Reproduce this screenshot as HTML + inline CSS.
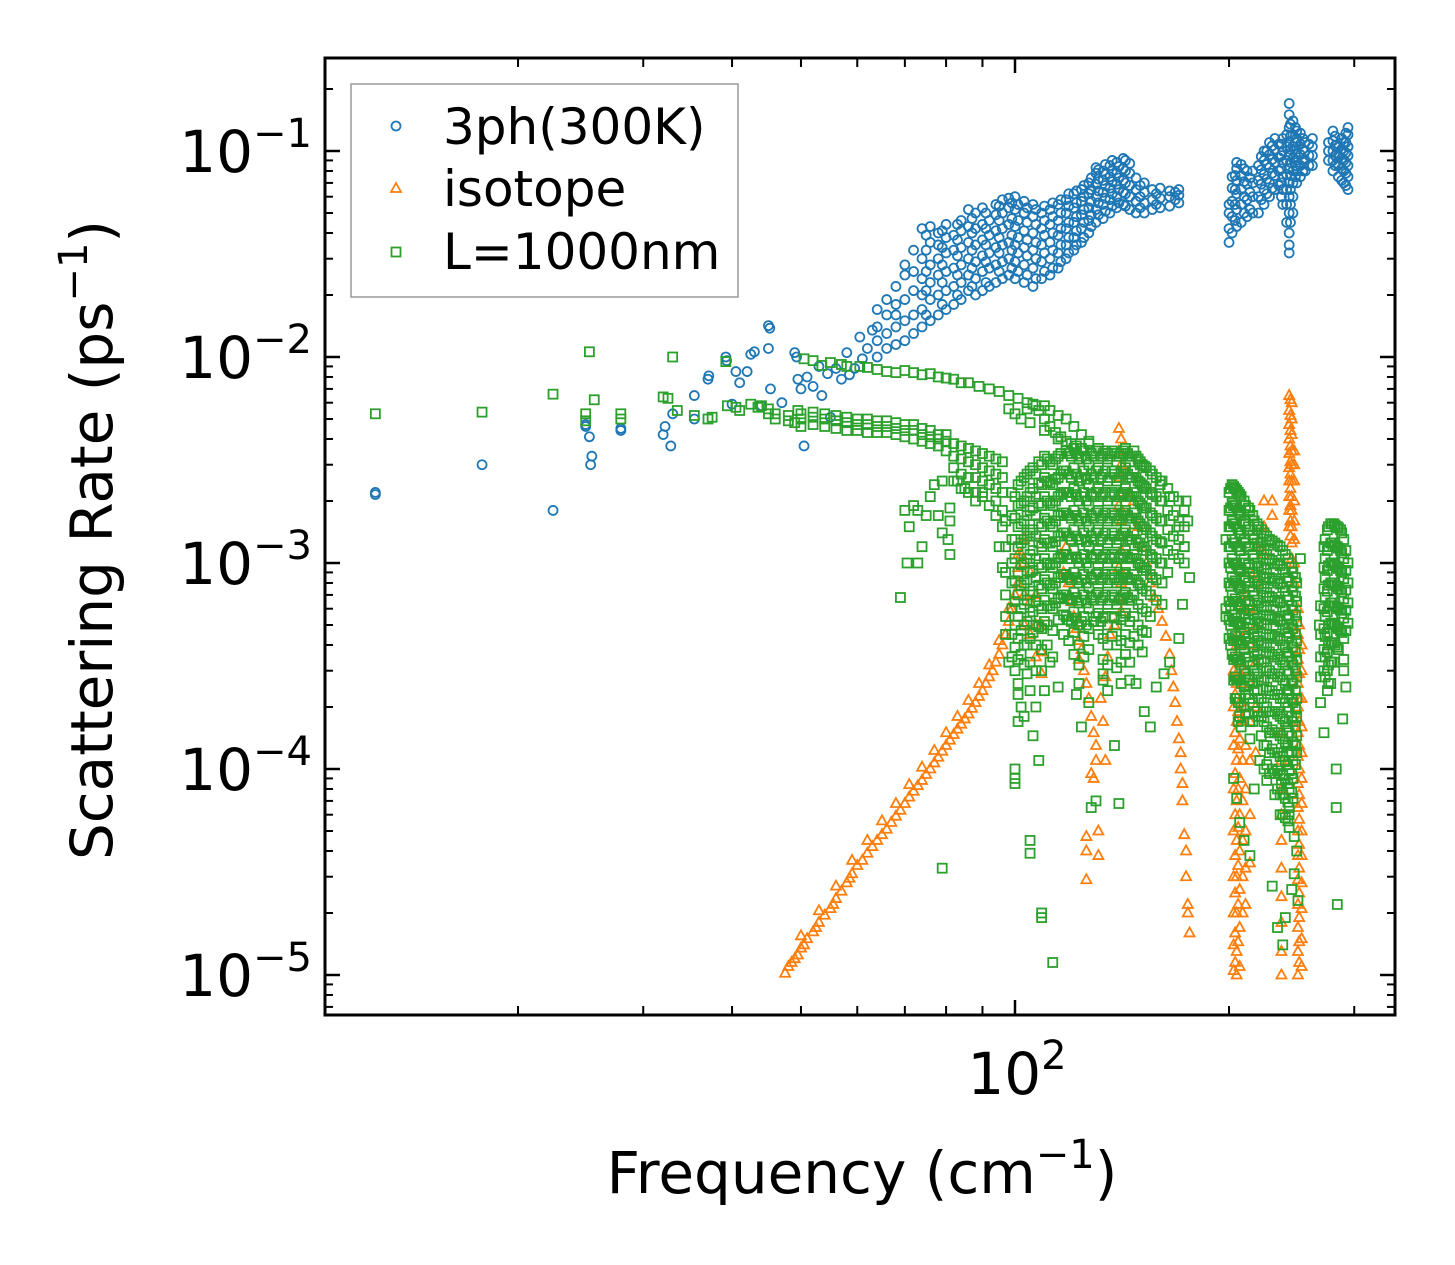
<!DOCTYPE html>
<html><head><meta charset="utf-8"><style>
html,body{margin:0;padding:0;background:#fff;}
svg{display:block;font-family:"DejaVu Sans","Liberation Sans",sans-serif;}
</style></head><body>
<svg id="chart" width="1455" height="1265" viewBox="0 0 1455 1265" xmlns="http://www.w3.org/2000/svg">
<rect width="1455" height="1265" fill="#fff"/>
<g id="ticks"></g>
<g id="marks"></g>
<rect x="325" y="58" width="1070" height="957" fill="none" stroke="#000" stroke-width="3"/>
<g id="labels" font-size="58" fill="#000"></g>
<text x="862" y="1193" text-anchor="middle" font-size="58">Frequency (cm<tspan font-size="40" dy="-25">−1</tspan><tspan dy="25">)</tspan></text>
<text transform="translate(112,540) rotate(-90)" text-anchor="middle" font-size="58">Scattering Rate (ps<tspan font-size="40" dy="-25">−1</tspan><tspan dy="25">)</tspan></text>
<g>
<rect x="351" y="84" width="387" height="213" fill="#fff" fill-opacity="0.8" stroke="#999" stroke-width="1.5"/>
<circle cx="396" cy="126" r="4.5" fill="none" stroke="#1f77b4" stroke-width="1.8"/>
<text x="443" y="144" font-size="50">3ph(300K)</text>
<polygon points="396,183 401,192 391,192" fill="none" stroke="#ff7f0e" stroke-width="1.8"/>
<text x="443" y="206" font-size="50">isotope</text>
<rect x="391.5" y="247.5" width="9" height="9" fill="none" stroke="#2ca02c" stroke-width="1.8"/>
<text x="443" y="269" font-size="50">L=1000nm</text>
</g>
</svg>
<script>
// ---- data ----
const yTickExps = [-1, -2, -3, -4, -5];
const xTickExps = [2];
const xMinorVals = [20,30,40,50,60,70,80,90,200,300];

const blueScatter = [[12.6,2.2e-3],[12.6,2.15e-3],[17.8,3e-3],[22.4,1.8e-3],[24.9,4.6e-3],[24.9,4.7e-3],[25.2,4.1e-3],[25.4,3.3e-3],[25.3,3e-3],[27.9,4.4e-3],[27.9,4.5e-3],[32,4.2e-3],[32.2,4.6e-3],[32.8,3.7e-3],[33,5.3e-3],[35.4,5e-3],[35.4,6.5e-3],[37,7.8e-3],[37.1,8.1e-3],[39.2,1e-2],[39.3,9.6e-3],[40,5.9e-3],[40.5,8.5e-3],[41,7.5e-3],[42,8.5e-3],[42.5,1.03e-2],[43,1.06e-2],[44,5.8e-3],[45,1.42e-2],[45.2,1.38e-2],[45,1.1e-2],[45.3,7e-3],[47,6e-3],[49,1.05e-2],[49.3,1e-2],[49.5,7.8e-3],[50,7e-3],[50.5,3.7e-3],[51,8e-3],[52,7.2e-3],[53,9e-3],[53.5,6.5e-3],[54.5,8.3e-3],[55,5.1e-3],[56,8.8e-3],[57,7.8e-3],[58,1.05e-2],[58.5,8.2e-3],[59.5,8.8e-3],[60.5,1.25e-2],[61,9.8e-3],[62,1.1e-2],[63,1.35e-2]];
const blueColumns = [
[64,1.0e-2,1.2e-2,1.4e-2,1.7e-2],[66,1.1e-2,1.3e-2,1.6e-2,1.9e-2],[68,1.15e-2,1.4e-2,1.8e-2,2.2e-2,1.6e-2],[70,1.2e-2,1.5e-2,1.9e-2,2.5e-2,2.8e-2],[72,1.3e-2,1.6e-2,2.1e-2,2.6e-2,3.3e-2],[74,1.4e-2,1.7e-2,2e-2,2.4e-2,3e-2,4.2e-2],[76,1.5e-2,1.9e-2,2.3e-2,2.8e-2,3.6e-2,4.3e-2],[78,1.6e-2,2e-2,2.5e-2,3e-2,3.5e-2,4e-2],[80,1.7e-2,2.1e-2,2.6e-2,3.2e-2,3.8e-2,4.4e-2],[82,1.8e-2,2.2e-2,2.7e-2,3.3e-2,3.9e-2],[84,1.9e-2,2.3e-2,2.8e-2,3.4e-2,4.1e-2,4.6e-2],[86,2.1e-2,2.5e-2,3e-2,3.6e-2,4.3e-2,5.2e-2],[88,2e-2,2.4e-2,2.9e-2,3.5e-2,4.2e-2,5e-2],[90,2.1e-2,2.6e-2,3.1e-2,3.7e-2,4.4e-2,5.3e-2],[92,2.2e-2,2.7e-2,3.2e-2,3.9e-2,4.6e-2],[94,2.3e-2,2.8e-2,3.4e-2,4.1e-2,4.9e-2,5.5e-2],[96,2.4e-2,2.9e-2,3.5e-2,4.2e-2,5e-2,5.8e-2],[98,2.5e-2,3e-2,3.6e-2,4.4e-2,5.3e-2,5.9e-2],[100,2.4e-2,2.9e-2,3.5e-2,4.3e-2,5.2e-2,6e-2],[103,2.3e-2,2.8e-2,3.4e-2,4.1e-2,5e-2,5.7e-2],[106,2.2e-2,2.7e-2,3.3e-2,4e-2,4.8e-2,5.5e-2],[109,2.4e-2,2.9e-2,3.5e-2,4.2e-2,5e-2],[112,2.5e-2,3e-2,3.6e-2,4.4e-2,5.2e-2],[115,2.7e-2,3.2e-2,3.9e-2,4.6e-2,5.5e-2],[118,3e-2,3.5e-2,4.2e-2,5e-2,5.8e-2],[121,3.3e-2,3.8e-2,4.5e-2,5.3e-2,6.2e-2],[124,3.6e-2,4.2e-2,4.9e-2,5.7e-2,6.5e-2],[127,4e-2,4.6e-2,5.3e-2,6.2e-2,7e-2],[130,4.5e-2,5.2e-2,6e-2,6.9e-2,7.8e-2,8.3e-2],[133,4.7e-2,5.5e-2,6.3e-2,7.2e-2,8e-2],[136,5e-2,5.8e-2,6.6e-2,7.5e-2,8.5e-2],[139,5.3e-2,6e-2,6.9e-2,7.8e-2,8.8e-2],[142,5.5e-2,6.3e-2,7.2e-2,8.2e-2,9.2e-2],[145,5.2e-2,6e-2,6.8e-2,7.8e-2,8.7e-2],[148,5e-2,5.7e-2,6.5e-2,7.4e-2],[152,5e-2,5.6e-2,6.3e-2,7e-2],[156,5.2e-2,5.8e-2,6.5e-2],[160,5.3e-2,5.9e-2,6.6e-2],[165,5.4e-2,6e-2,6.4e-2],[170,5.6e-2,6.1e-2,6.5e-2],
[200,3.6e-2,4.2e-2,5e-2,5.5e-2],[202,4e-2,4.8e-2,5.7e-2,6.6e-2,7.5e-2],[205,4.3e-2,5.2e-2,6.2e-2,7.2e-2,8.2e-2,8.8e-2],[208,4.5e-2,5.5e-2,6.5e-2,7.6e-2,8.6e-2],[212,4.8e-2,5.8e-2,6.9e-2,8e-2],[216,5e-2,6e-2,7e-2,8e-2],[220,5e-2,6e-2,7.2e-2,8.5e-2],[224,5.5e-2,6.5e-2,7.7e-2,9e-2,1e-1],[228,6e-2,7e-2,8.3e-2,9.6e-2,1.1e-1],[232,6.5e-2,7.6e-2,8.8e-2,1.02e-1,1.15e-1],[235,6.8e-2,8e-2,9.3e-2,1.08e-1],[238,5.5e-2,6.5e-2,7.5e-2,8.8e-2,1e-1,1.15e-1],[241,4.5e-2,5.5e-2,6.5e-2,7.7e-2,9e-2,1.05e-1,1.2e-1],[243,3.2e-2,3.5e-2,4e-2,5e-2,6e-2,7e-2,8.2e-2,9.5e-2,1.1e-1,1.3e-1,1.5e-1,1.7e-1],[246,5e-2,6e-2,7e-2,8e-2,9.2e-2,1.05e-1,1.2e-1,1.4e-1],[249,7e-2,8e-2,9e-2,1.02e-1,1.15e-1,1.25e-1],[252,7.5e-2,8.5e-2,9.6e-2,1.08e-1,1.22e-1],[256,8e-2,9e-2,1e-1,1.1e-1],[262,8.5e-2,9.5e-2,1.05e-1,1.15e-1],[276,9e-2,1e-1,1.1e-1],[280,8e-2,9e-2,1e-1,1.12e-1,1.25e-1],[285,7.5e-2,8.5e-2,9.5e-2,1.05e-1],[290,7e-2,8e-2,9e-2,1e-1,1.1e-1],[294,6.5e-2,7.5e-2,8.5e-2,9.5e-2,1.05e-1,1.2e-1,1.3e-1]];
const blueFill = [
[75,1.6e-2,2.1e-2,2.6e-2,3.3e-2,3.9e-2],[79,1.8e-2,2.3e-2,2.8e-2,3.4e-2,4.1e-2],[83,2e-2,2.5e-2,3.1e-2,3.7e-2,4.4e-2],[87,2.2e-2,2.7e-2,3.3e-2,4e-2,4.7e-2],[91,2.3e-2,2.9e-2,3.5e-2,4.2e-2,5e-2],[95,2.6e-2,3.2e-2,3.8e-2,4.6e-2,5.4e-2],[99,2.7e-2,3.3e-2,3.9e-2,4.7e-2,5.6e-2],[101,2.6e-2,3.2e-2,3.8e-2,4.6e-2,5.5e-2],[104,2.5e-2,3.1e-2,3.7e-2,4.5e-2,5.3e-2],[107,2.4e-2,3e-2,3.6e-2,4.4e-2,5.2e-2],[110,2.6e-2,3.2e-2,3.9e-2,4.6e-2,5.4e-2],[113,2.7e-2,3.3e-2,4e-2,4.8e-2,5.6e-2],[116,2.9e-2,3.5e-2,4.2e-2,5e-2,5.8e-2],[119,3.2e-2,3.8e-2,4.5e-2,5.4e-2,6.2e-2],[122,3.5e-2,4.1e-2,4.8e-2,5.6e-2,6.4e-2],[125,3.8e-2,4.5e-2,5.2e-2,6e-2,6.8e-2],[128,4.3e-2,4.9e-2,5.7e-2,6.5e-2,7.4e-2],[131,4.9e-2,5.6e-2,6.4e-2,7.3e-2,8.1e-2],[134,5.1e-2,5.9e-2,6.8e-2,7.7e-2,8.6e-2],[137,5.4e-2,6.2e-2,7.1e-2,8e-2,9e-2],[140,5.6e-2,6.5e-2,7.4e-2,8.4e-2],[143,5.4e-2,6.2e-2,7e-2,8e-2,9e-2],[150,5.3e-2,6e-2,6.8e-2],[158,5.5e-2,6.2e-2],[168,5.8e-2,6.3e-2],
[204,4.6e-2,5.5e-2,6.5e-2,7.6e-2],[210,5e-2,6e-2,7.1e-2,8.2e-2],[214,5.2e-2,6.3e-2,7.4e-2],[222,5.8e-2,6.9e-2,8.1e-2,9.4e-2],[226,6.2e-2,7.3e-2,8.6e-2,1e-1],[230,6.6e-2,7.8e-2,9.1e-2,1.06e-1],[237,6e-2,7e-2,8.2e-2,9.5e-2,1.08e-1],[244,4.5e-2,5.5e-2,6.5e-2,7.6e-2,8.8e-2,1.02e-1,1.18e-1,1.35e-1],[248,7.5e-2,8.5e-2,9.7e-2,1.1e-1,1.3e-1],[254,8e-2,9e-2,1.02e-1,1.15e-1],[259,8.5e-2,9.5e-2,1.08e-1],[282,8.5e-2,9.5e-2,1.06e-1,1.18e-1],[288,7.2e-2,8.2e-2,9.2e-2,1.02e-1,1.15e-1],[292,6.8e-2,7.8e-2,8.8e-2,9.8e-2,1.1e-1,1.22e-1]];

const orangeLine = [[47.5,1.02e-5],[48,1.1e-5],[48.5,1.15e-5],[49,1.2e-5],[49.5,1.25e-5],[50,1.35e-5],[50.5,1.4e-5],[51,1.5e-5],[52,1.62e-5],[52.5,1.7e-5],[53,1.8e-5],[54,1.95e-5],[55,2.1e-5],[55.5,2.2e-5],[56,2.35e-5],[57,2.55e-5],[58,2.8e-5],[58.5,2.95e-5],[59,3.1e-5],[60,3.4e-5],[61,3.6e-5],[62,3.9e-5],[63,4.2e-5],[64,4.5e-5],[65,4.8e-5],[66,5.1e-5],[67,5.5e-5],[68,5.9e-5],[69,6.3e-5],[70,6.8e-5],[71,7.3e-5],[72,7.8e-5],[73,8.3e-5],[74,8.8e-5],[75,9.4e-5],[76,1e-4],[77,1.07e-4],[78,1.14e-4],[79,1.22e-4],[80,1.3e-4],[81,1.38e-4],[82,1.47e-4],[83,1.56e-4],[84,1.65e-4],[85,1.75e-4],[86,1.85e-4],[87,1.97e-4],[88,2.1e-4],[89,2.25e-4],[90,2.4e-4],[91,2.6e-4],[92,2.8e-4],[93,3e-4],[94,3.3e-4],[95,3.6e-4],[96,4e-4],[97,4.5e-4],[98,5.2e-4],[99,6e-4],[100,7e-4],[101,8e-4],[101,9.5e-4],[102,1.1e-3],
[50,1.55e-5],[53,2.05e-5],[56,2.7e-5],[59,3.6e-5],[62,4.5e-5],[65,5.6e-5],[68,6.8e-5],[71,8.4e-5],[74,1.02e-4],[77,1.23e-4],[80,1.5e-4],[83,1.8e-4],[86,2.15e-4],[89,2.6e-4],[92,3.2e-4],[95,4.2e-4],[98,6e-4]];
const orangePeaks = [[101,1.1e-3],[101,8e-4],[103,1.3e-3],[103,1e-3],[103,7e-4],[103,5e-4],[105,9e-4],[105,6.5e-4],[105,4.5e-4],[107,7e-4],[107,5e-4],[107,3.5e-4],[109,5e-4],[109,3.7e-4],[109,2.9e-4],
[116,1.1e-3],[117,9e-4],[118,1.2e-3],[119,8e-4],[120,6.5e-4],[121,5.5e-4],[122,4.8e-4],[123,4.2e-4],[124,3.8e-4],[123,3.4e-4],[125,3e-4],[126,2.6e-4],[127,2.2e-4],[128,1.8e-4],[129,1.5e-4],[130,1.3e-4],[130,1.1e-4],[128,9.5e-5],[129,9e-5],[126,4.7e-5],[126,4e-5],[126,2.9e-5],[131,5e-5],[131,3.8e-5],[133,1.7e-4],[132,2.2e-4],[134,2.8e-4],[135,3.5e-4],[136,4.5e-4],[134,1.1e-4],[138,5e-4],
[140,4.5e-3],[141,4e-3],[140,3.5e-3],[141,3e-3],[140.5,2.6e-3],[141,2.2e-3],[140,1.9e-3],[141,1.6e-3],[140.5,1.35e-3],[141,1.15e-3],[140,9.5e-4],[141,8e-4],[140,6.8e-4],[141,5.8e-4],
[145,2.2e-3],[147,2e-3],[149,1.5e-3],[151,1.2e-3],[153,1e-3],[155,8e-4],[157,6.8e-4],[159,6e-4],[161,5.2e-4],[163,4.4e-4],[165,3.6e-4],[166,3e-4],[167,2.5e-4],[168,2.1e-4],[169,1.7e-4],[170,1.4e-4],[171,1.2e-4],[171,1e-4],[172,8.5e-5],[172,7e-5],[173,4.8e-5],[174,4e-5],[174,3e-5],[175,2.2e-5],[175,2e-5],[176,1.6e-5]];
const orangeColumns = [
[203,3e-4,2e-4,1.3e-4,8e-5,5e-5,3e-5,2e-5,1.4e-5,1.05e-5],[205,4e-4,2.6e-4,1.7e-4,1.1e-4,7e-5,4.5e-5,3e-5,2e-5,1.3e-5,1e-5],[207,5e-4,3.3e-4,2.1e-4,1.4e-4,9e-5,6e-5,4e-5,2.6e-5,1.7e-5,1.1e-5],[209,6e-4,4e-4,2.6e-4,1.7e-4,1.1e-4,7e-5,4.5e-5,3e-5,2e-5],[211,7e-4,4.5e-4,3e-4,2e-4,1.3e-4,8e-5,5e-5,3.3e-5,2.2e-5],[214,9e-4,6e-4,4e-4,2.6e-4,1.7e-4,1.1e-4,6e-5,3.5e-5],[218,1.2e-3,8e-4,5e-4,3.3e-4,2e-4,1.2e-4],[224,2e-3,1.5e-3,1.1e-3],[230,1.7e-3,2e-3],
[237,1.5e-4,1.1e-4,8e-5,6e-5,4.5e-5,3.3e-5,2.4e-5,1.8e-5,1.3e-5,1e-5],
[243,6.5e-3,5.5e-3,4.7e-3,4e-3,3.4e-3,2.9e-3,2.5e-3,2.1e-3,1.8e-3,1.5e-3],[245,6e-3,5e-3,4.2e-3,3.5e-3,3e-3,2.5e-3,2.1e-3,1.8e-3,1.5e-3,1.25e-3,1.05e-3],[247,3.5e-3,3e-3,2.5e-3,2e-3,1.6e-3,1.3e-3,1e-3,8e-4],
[250,6e-4,4.5e-4,3.4e-4,2.6e-4,2e-4,1.5e-4,1.15e-4,8.5e-5,6.5e-5,5e-5,3.8e-5,2.9e-5,2.2e-5,1.7e-5,1.3e-5,1e-5],[253,4e-4,3e-4,2.2e-4,1.6e-4,1.2e-4,9e-5,6.8e-5,5e-5,3.8e-5,2.8e-5,2.1e-5,1.5e-5,1.1e-5],
[204,3.5e-4,2.3e-4,1.5e-4,9.5e-5,6e-5,3.8e-5,2.5e-5,1.6e-5,1.15e-5],[206,4.5e-4,3e-4,1.9e-4,1.25e-4,8e-5,5.2e-5,3.4e-5,2.2e-5,1.45e-5],[244,6.2e-3,5.2e-3,4.4e-3,3.7e-3,3.1e-3,2.7e-3,2.3e-3,1.9e-3,1.6e-3,1.35e-3],[251,5e-4,3.8e-4,2.9e-4,2.2e-4,1.7e-4,1.3e-4,1e-4,7.5e-5,5.7e-5,4.3e-5,3.3e-5,2.5e-5,1.9e-5,1.45e-5,1.15e-5]];

const greenScatter = [[12.6,5.3e-3],[17.8,5.4e-3],[22.4,6.6e-3],[24.9,5.3e-3],[24.9,4.9e-3],[25.2,1.06e-2],[25.6,6.2e-3],[27.9,5.3e-3],[27.9,5e-3],[32,6.4e-3],[32.5,6.3e-3],[33,1e-2],[33.5,5.5e-3],[35.4,5.2e-3],[37,5e-3],[37.5,5.1e-3],[39.2,9.5e-3],[39.4,5.8e-3],[40.5,5.7e-3],[41,5.5e-3],[42.5,5.9e-3],[43.5,5.7e-3],[44,5.8e-3],[45,5.3e-3],[45,5.6e-3],[49,4.8e-3],[49.5,5.5e-3],[50.5,9.8e-3],[52,9.6e-3],[53.5,9.1e-3],[55,9.4e-3],[57,9.2e-3],[58,9e-3],[60.5,9e-3],[62,8.9e-3],[64,8.7e-3],[66,8.5e-3],[68,8.4e-3],[70,8.6e-3],[72,8.4e-3],[74,8.2e-3],[76,8.3e-3],[78,8e-3],[80,7.9e-3],[82,7.8e-3],[84,7.5e-3],[86,7.5e-3],[89,7.2e-3],[92,7e-3],[95,6.8e-3],[98,6.5e-3],[101,6.3e-3],[104,6e-3],[107,5.8e-3],[110,5.8e-3],[112,5.5e-3],[115,5.2e-3],[118,5e-3],[121,4.6e-3],[124,4.2e-3],[127,3.8e-3],[130,3.5e-3],[133,3.3e-3],
[70,1.8e-3],[71,1.5e-3],[70.5,1e-3],[69,6.8e-4],[72,1.9e-3],[73,1.8e-3],[75,1.7e-3],[76,2.1e-3],[77,2.4e-3],[79,2.5e-3],[81,1.6e-3],[80.5,1.3e-3],[81,1.1e-3],[79,3.3e-5],[74,1.2e-3],[73,1e-3],[78,1.7e-3],[79,1.4e-3],[81,1.85e-3],[83,2.5e-3],[85,2.3e-3],[88,2e-3],[90,2.2e-3],[92,1.9e-3],[94,1.7e-3],[96,1.5e-3],[95,1.2e-3],[96,9.5e-4],
[102,5e-3],[104,5.6e-3],[106,5.9e-3],[108,5.5e-3],[110,5e-3],[112,4.6e-3],[114,4.3e-3],[116,4.1e-3],[118,3.9e-3],[120,3.8e-3],[122,3.7e-3],[124,3.6e-3],[100,5.3e-3],[98,5.6e-3],[105,4.8e-3],[110,4.4e-3],[115,4e-3],[127,3.9e-3],[135,3.4e-3],[140,3.3e-3],[145,3.1e-3],[150,3e-3],
[98,3.3e-4],[100,3e-4],[101,2.3e-4],[101,1.7e-4],[100,1e-4],[100,9e-5],[100,8.5e-5],[102,2e-4],[103,1.8e-4],[104,2.9e-4],[105,4.5e-5],[105,3.9e-5],[106,1.45e-4],[108,1.1e-4],[110,2.4e-4],[112,3.3e-4],[113,3.5e-4],[109,1.9e-5],[109,2e-5],[113,1.15e-5],[115,2.5e-4],[117,4.5e-4],[122,2.3e-4],[124,1.6e-4],[127,2.1e-4],[128,6.5e-5],[130,7e-5],[133,2.9e-4],[135,2.4e-4],[138,1.3e-4],[140,6.8e-5],[145,2.7e-4],[148,2.6e-4],[152,1.9e-4],[155,1.6e-4],[158,2.5e-4],[162,2.9e-4],[165,3.3e-4],[170,4.3e-4],[172,6.3e-4],[173,1.2e-3],[170,1.5e-3],[165,2.1e-3],[160,2.4e-3],[174,2e-3],[175,1.6e-3],[173,1e-3],[176,8.5e-4],
[203,9e-5],[205,7.2e-5],[207,5.5e-5],[210,4.5e-5],[214,3.8e-5],[217,8e-5],[221,1.1e-4],[226,8.8e-5],[230,2.7e-5],[234,1.7e-5],[238,1.4e-5],[240,1.9e-5],[245,2.6e-5],[247,3.1e-5],[250,2.3e-5],[243,6e-5],[237,8.5e-5],[247,4.7e-5],[249,4e-5],[252,1.05e-3],[224,8.5e-4],[219,1.45e-3],[222,1.25e-3],
[268,5e-4],[272,1.5e-4],[283,1e-4],[283,6.5e-5],[284,2.2e-5],[290,3e-4],[289,1.75e-4],[292,2.5e-4]];
const greenColumns = [
[46,5e-3,5.3e-3],[48,5.2e-3,4.9e-3],[50,5e-3,5.3e-3,4.6e-3],[52,5.1e-3,4.7e-3,5.4e-3],[54,5e-3,4.6e-3,5.3e-3],[56,4.9e-3,4.5e-3,5.2e-3],[58,4.8e-3,4.4e-3,5.1e-3],[60,4.7e-3,4.4e-3,5e-3],[62,4.7e-3,4.3e-3,5e-3],[64,4.6e-3,4.3e-3,4.9e-3],[66,4.6e-3,4.3e-3,4.9e-3],[68,4.5e-3,4.2e-3,4.8e-3],[70,4.4e-3,4.1e-3,4.7e-3],[72,4.4e-3,4e-3,4.7e-3],[74,4.2e-3,3.9e-3,4.5e-3],[76,4.1e-3,3.8e-3,4.4e-3],[78,4e-3,3.7e-3,4.2e-3],[80,3.9e-3,3.5e-3,4.2e-3],
[82,3.8e-3,3.3e-3,2.9e-3,2.5e-3],[84,3.7e-3,3.2e-3,2.7e-3,2.3e-3],[86,3.6e-3,3.1e-3,2.6e-3,2.2e-3],[88,3.5e-3,3e-3,2.6e-3,2.2e-3],[90,3.4e-3,2.9e-3,2.5e-3,2.1e-3],[92,3.3e-3,2.8e-3,2.4e-3],[94,3.2e-3,2.7e-3,2.3e-3,2e-3],[96,3.1e-3,2.6e-3,2.2e-3,1.8e-3],
[97,1.6e-3,1.2e-3,9e-4,7e-4,5.5e-4,4.5e-4],[99,2.2e-3,1.7e-3,1.3e-3,1e-3,8e-4,6e-4,4.5e-4,3.5e-4],[101,2.4e-3,1.9e-3,1.5e-3,1.2e-3,9e-4,7e-4,5.5e-4,4.3e-4,3.4e-4,2.6e-4],[103,2.6e-3,2e-3,1.6e-3,1.3e-3,1e-3,8e-4,6.3e-4,5e-4,4e-4,3.2e-4],[105,2.8e-3,2.2e-3,1.8e-3,1.4e-3,1.1e-3,9e-4,7e-4,5.5e-4,4.3e-4,3.3e-4,2.4e-4],[107,2.7e-3,2.1e-3,1.7e-3,1.35e-3,1.05e-3,8.5e-4,6.5e-4,5e-4,4e-4,3e-4,2e-4],[109,3e-3,2.4e-3,1.9e-3,1.5e-3,1.2e-3,9.5e-4,7.5e-4,6e-4,4.8e-4,3.8e-4,3e-4],[111,3.2e-3,2.5e-3,2e-3,1.6e-3,1.25e-3,1e-3,8e-4,6.2e-4,5e-4,4e-4],[113,3e-3,2.4e-3,1.9e-3,1.5e-3,1.2e-3,9.5e-4,7.5e-4,6e-4,4.7e-4],[115,3.3e-3,2.6e-3,2.1e-3,1.7e-3,1.35e-3,1.05e-3,8.5e-4,6.7e-4,5.3e-4],[117,2.8e-3,2.2e-3,1.75e-3,1.4e-3,1.1e-3,8.8e-4,7e-4,5.6e-4],[119,3.4e-3,2.7e-3,2.2e-3,1.7e-3,1.35e-3,1.05e-3,8.5e-4,6.7e-4,5.3e-4,4.2e-4],[121,3.6e-3,2.9e-3,2.3e-3,1.8e-3,1.45e-3,1.15e-3,9e-4,7.2e-4,5.8e-4,4.6e-4,3.6e-4],[123,3.2e-3,2.5e-3,2e-3,1.6e-3,1.3e-3,1e-3,8e-4,6.4e-4,5e-4,4e-4,3.2e-4,2.6e-4],[125,3.5e-3,2.8e-3,2.2e-3,1.75e-3,1.4e-3,1.1e-3,8.8e-4,7e-4,5.5e-4,4.4e-4,3.5e-4],[127,3e-3,2.4e-3,1.9e-3,1.5e-3,1.2e-3,9.5e-4,7.6e-4,6e-4,4.8e-4,3.8e-4],[129,3.3e-3,2.6e-3,2.1e-3,1.65e-3,1.3e-3,1.05e-3,8.3e-4,6.6e-4,5.2e-4],[131,3.6e-3,2.9e-3,2.3e-3,1.8e-3,1.45e-3,1.15e-3,9e-4,7.2e-4,5.7e-4,4.5e-4],[133,3.4e-3,2.7e-3,2.15e-3,1.7e-3,1.35e-3,1.07e-3,8.5e-4,6.8e-4,5.4e-4,4.3e-4,3.4e-4,2.7e-4],[135,3.2e-3,2.5e-3,2e-3,1.6e-3,1.25e-3,1e-3,8e-4,6.3e-4,5e-4,4e-4,3.2e-4],[137,3.5e-3,2.8e-3,2.2e-3,1.75e-3,1.4e-3,1.1e-3,8.8e-4,7e-4,5.5e-4,4.4e-4],[139,3.1e-3,2.5e-3,2e-3,1.6e-3,1.25e-3,1e-3,8e-4,6.3e-4,5e-4,4e-4,3.1e-4],[141,3.4e-3,2.7e-3,2.15e-3,1.7e-3,1.35e-3,1.07e-3,8.5e-4,6.7e-4,5.3e-4,4.2e-4,3.3e-4,2.6e-4],[143,3.6e-3,2.9e-3,2.3e-3,1.8e-3,1.45e-3,1.15e-3,9e-4,7.2e-4,5.7e-4,4.5e-4,3.6e-4],[145,3.3e-3,2.6e-3,2.1e-3,1.65e-3,1.3e-3,1.05e-3,8.3e-4,6.6e-4,5.2e-4,4.1e-4,3.3e-4],[147,3.5e-3,2.8e-3,2.2e-3,1.75e-3,1.4e-3,1.1e-3,8.8e-4,7e-4,5.5e-4,4.4e-4],[149,3.2e-3,2.5e-3,2e-3,1.6e-3,1.25e-3,1e-3,8e-4,6.3e-4,5e-4,4e-4],[151,3e-3,2.4e-3,1.9e-3,1.5e-3,1.2e-3,9.5e-4,7.5e-4,6e-4,4.7e-4,3.7e-4],[153,2.9e-3,2.3e-3,1.85e-3,1.45e-3,1.15e-3,9.2e-4,7.3e-4,5.8e-4,4.6e-4],[155,2.8e-3,2.2e-3,1.75e-3,1.4e-3,1.1e-3,8.8e-4,7e-4,5.5e-4],[158,2.6e-3,2.1e-3,1.65e-3,1.3e-3,1.05e-3,8.3e-4,6.6e-4],[161,2.5e-3,2e-3,1.6e-3,1.25e-3,1e-3,8e-4,6.3e-4],[164,2.3e-3,1.8e-3,1.45e-3,1.15e-3,9e-4],[167,2.1e-3,1.7e-3,1.35e-3,1.1e-3],[170,2e-3,1.6e-3,1.3e-3,1.05e-3],[173,1.8e-3,1.5e-3,1.2e-3],
[198,6e-4,5.5e-4,1.3e-3],[200,2.2e-3,1.8e-3,1.5e-3,1.2e-3,1e-3,8e-4,6.5e-4,5.3e-4,4.3e-4],[202,2.4e-3,1.95e-3,1.6e-3,1.3e-3,1.05e-3,8.5e-4,7e-4,5.6e-4,4.5e-4,3.6e-4],[204,2.3e-3,1.9e-3,1.55e-3,1.25e-3,1e-3,8.2e-4,6.7e-4,5.4e-4,4.4e-4,3.5e-4,2.8e-4,2.2e-4],[206,2.2e-3,1.8e-3,1.45e-3,1.2e-3,9.5e-4,7.8e-4,6.3e-4,5.1e-4,4.2e-4,3.4e-4,2.7e-4,2.1e-4,1.7e-4],[208,2.1e-3,1.7e-3,1.4e-3,1.15e-3,9.2e-4,7.5e-4,6.1e-4,5e-4,4e-4,3.2e-4,2.6e-4,2e-4,1.6e-4],[211,1.9e-3,1.55e-3,1.25e-3,1e-3,8.2e-4,6.6e-4,5.4e-4,4.4e-4,3.5e-4,2.9e-4,2.3e-4,1.85e-4],[214,1.8e-3,1.45e-3,1.2e-3,9.5e-4,7.7e-4,6.3e-4,5.1e-4,4.1e-4,3.3e-4,2.7e-4,2.2e-4,1.7e-4,1.4e-4],[217,1.6e-3,1.3e-3,1.05e-3,8.5e-4,6.9e-4,5.6e-4,4.5e-4,3.7e-4,3e-4,2.4e-4,1.9e-4],[220,1.5e-3,1.2e-3,9.7e-4,7.9e-4,6.4e-4,5.2e-4,4.2e-4,3.4e-4,2.8e-4,2.2e-4,1.8e-4],[224,1.4e-3,1.15e-3,9.3e-4,7.5e-4,6.1e-4,5e-4,4e-4,3.3e-4,2.7e-4,2.1e-4,1.7e-4,1.3e-4,1e-4],[228,1.3e-3,1.05e-3,8.5e-4,6.9e-4,5.6e-4,4.5e-4,3.7e-4,3e-4,2.4e-4,1.9e-4,1.5e-4,1.2e-4,9.5e-5],[232,1.25e-3,1e-3,8.2e-4,6.6e-4,5.4e-4,4.4e-4,3.5e-4,2.9e-4,2.3e-4,1.9e-4,1.5e-4,1.2e-4,9.5e-5,7.5e-5],[236,1.2e-3,9.7e-4,7.9e-4,6.4e-4,5.2e-4,4.2e-4,3.4e-4,2.8e-4,2.2e-4,1.8e-4,1.45e-4,1.15e-4,9.5e-5,7.5e-5,6e-5],[240,1.1e-3,9e-4,7.3e-4,5.9e-4,4.8e-4,3.9e-4,3.2e-4,2.6e-4,2.1e-4,1.7e-4,1.35e-4,1.1e-4,9e-5,7.2e-5,5.8e-5],[243,1e-3,8.2e-4,6.6e-4,5.4e-4,4.4e-4,3.5e-4,2.9e-4,2.3e-4,1.9e-4,1.5e-4,1.2e-4,9.8e-5,8e-5,6.5e-5,5.2e-5],[246,9e-4,7.3e-4,5.9e-4,4.8e-4,3.9e-4,3.2e-4,2.6e-4,2.1e-4,1.7e-4,1.35e-4,1.1e-4,9e-5,7.2e-5],[249,8e-4,6.5e-4,5.2e-4,4.2e-4,3.4e-4,2.8e-4,2.2e-4,1.8e-4,1.45e-4,1.2e-4],
[269,4.5e-4,3.5e-4,2.8e-4,2.1e-4,6.2e-4],[272,1.2e-3,9.5e-4,7.5e-4,6e-4,4.8e-4,3.8e-4,3e-4],[275,1.45e-3,1.15e-3,9.2e-4,7.3e-4,5.8e-4,4.6e-4,3.7e-4,3e-4,2.4e-4],[278,1.55e-3,1.25e-3,1e-3,8e-4,6.4e-4,5.1e-4,4.1e-4,3.3e-4,2.6e-4],[281,1.55e-3,1.25e-3,1e-3,8e-4,6.4e-4,5.1e-4,4.1e-4,3.3e-4],[284,1.5e-3,1.2e-3,9.6e-4,7.7e-4,6.1e-4,4.9e-4,3.9e-4],[287,1.45e-3,1.15e-3,9.2e-4,7.4e-4,5.9e-4,4.7e-4],[290,1.3e-3,1.05e-3,8.4e-4,6.7e-4,5.4e-4,4.3e-4,3.4e-4],[294,1e-3,8e-4,6.4e-4,5.1e-4]];
const greenFill = [
[100,2.1e-3,1.65e-3,1.3e-3,1.05e-3,8.2e-4,6.5e-4,5e-4,3.9e-4],[102,2.5e-3,1.95e-3,1.55e-3,1.25e-3,9.8e-4,7.8e-4,6e-4,4.7e-4,3.6e-4],[104,2.7e-3,2.1e-3,1.7e-3,1.35e-3,1.05e-3,8.3e-4,6.6e-4,5.2e-4,4e-4],[106,2.9e-3,2.3e-3,1.85e-3,1.45e-3,1.15e-3,9.2e-4,7.3e-4,5.8e-4,4.6e-4],[108,3.1e-3,2.45e-3,1.95e-3,1.55e-3,1.25e-3,9.8e-4,7.8e-4,6.2e-4,4.9e-4],[110,3.3e-3,2.6e-3,2.1e-3,1.65e-3,1.3e-3,1.05e-3,8.3e-4,6.6e-4,5.2e-4],[112,3.1e-3,2.45e-3,1.95e-3,1.55e-3,1.25e-3,9.8e-4,7.8e-4,6.2e-4],[114,3.2e-3,2.55e-3,2e-3,1.6e-3,1.27e-3,1e-3,8e-4,6.4e-4],[116,3.4e-3,2.7e-3,2.15e-3,1.7e-3,1.35e-3,1.07e-3,8.5e-4,6.8e-4],[118,3.5e-3,2.8e-3,2.2e-3,1.75e-3,1.4e-3,1.1e-3,8.8e-4,7e-4,5.5e-4],[120,3.3e-3,2.6e-3,2.1e-3,1.65e-3,1.3e-3,1.05e-3,8.3e-4,6.6e-4,5.2e-4],[122,3.4e-3,2.7e-3,2.15e-3,1.7e-3,1.35e-3,1.07e-3,8.5e-4,6.8e-4,5.4e-4],[124,3.3e-3,2.6e-3,2.1e-3,1.65e-3,1.3e-3,1.05e-3,8.3e-4,6.6e-4,5.2e-4],[126,3.2e-3,2.55e-3,2e-3,1.6e-3,1.27e-3,1e-3,8e-4,6.4e-4,5e-4],[128,3.4e-3,2.7e-3,2.15e-3,1.7e-3,1.35e-3,1.07e-3,8.5e-4,6.8e-4],[130,3.5e-3,2.8e-3,2.2e-3,1.75e-3,1.4e-3,1.1e-3,8.8e-4,7e-4,5.5e-4],[132,3.3e-3,2.6e-3,2.1e-3,1.65e-3,1.3e-3,1.05e-3,8.3e-4,6.6e-4,5.2e-4],[134,3.5e-3,2.8e-3,2.2e-3,1.75e-3,1.4e-3,1.1e-3,8.8e-4,7e-4,5.5e-4],[136,3.3e-3,2.6e-3,2.1e-3,1.65e-3,1.3e-3,1.05e-3,8.3e-4,6.6e-4],[138,3.4e-3,2.7e-3,2.15e-3,1.7e-3,1.35e-3,1.07e-3,8.5e-4,6.8e-4,5.4e-4],[140,3.3e-3,2.6e-3,2.1e-3,1.65e-3,1.3e-3,1.05e-3,8.3e-4,6.6e-4],[142,3.5e-3,2.8e-3,2.2e-3,1.75e-3,1.4e-3,1.1e-3,8.8e-4,7e-4,5.5e-4],[144,3.4e-3,2.7e-3,2.15e-3,1.7e-3,1.35e-3,1.07e-3,8.5e-4,6.8e-4],[146,3.3e-3,2.6e-3,2.1e-3,1.65e-3,1.3e-3,1.05e-3,8.3e-4,6.6e-4],[148,3.3e-3,2.6e-3,2.1e-3,1.65e-3,1.3e-3,1.05e-3,8.3e-4],[150,3.1e-3,2.45e-3,1.95e-3,1.55e-3,1.25e-3,9.8e-4,7.8e-4],[152,2.95e-3,2.35e-3,1.85e-3,1.5e-3,1.2e-3,9.5e-4],[156,2.7e-3,2.15e-3,1.7e-3,1.35e-3,1.07e-3,8.5e-4],[160,2.5e-3,2e-3,1.6e-3,1.27e-3,1e-3],
[201,2.3e-3,1.85e-3,1.5e-3,1.2e-3,9.5e-4,7.7e-4,6.2e-4,5e-4,4e-4],[203,2.35e-3,1.9e-3,1.55e-3,1.25e-3,1e-3,8e-4,6.5e-4,5.2e-4,4.2e-4,3.4e-4,2.7e-4],[205,2.25e-3,1.85e-3,1.5e-3,1.2e-3,9.8e-4,8e-4,6.5e-4,5.2e-4,4.2e-4,3.4e-4,2.7e-4,2.2e-4],[207,2.15e-3,1.75e-3,1.4e-3,1.15e-3,9.3e-4,7.6e-4,6.2e-4,5e-4,4.1e-4,3.3e-4,2.7e-4,2.2e-4,1.8e-4],[210,2e-3,1.6e-3,1.3e-3,1.05e-3,8.5e-4,7e-4,5.7e-4,4.6e-4,3.8e-4,3e-4,2.5e-4,2e-4],[213,1.85e-3,1.5e-3,1.2e-3,9.8e-4,8e-4,6.5e-4,5.3e-4,4.3e-4,3.5e-4,2.8e-4,2.3e-4,1.85e-4],[216,1.7e-3,1.37e-3,1.1e-3,9e-4,7.3e-4,5.9e-4,4.8e-4,3.9e-4,3.2e-4,2.6e-4,2.1e-4,1.7e-4],[219,1.55e-3,1.25e-3,1e-3,8.2e-4,6.6e-4,5.4e-4,4.4e-4,3.6e-4,2.9e-4,2.4e-4,1.9e-4],[222,1.45e-3,1.17e-3,9.5e-4,7.7e-4,6.2e-4,5.1e-4,4.1e-4,3.3e-4,2.7e-4,2.2e-4,1.8e-4,1.45e-4],[226,1.35e-3,1.1e-3,8.9e-4,7.2e-4,5.9e-4,4.8e-4,3.9e-4,3.1e-4,2.5e-4,2e-4,1.6e-4,1.3e-4,1.05e-4],[230,1.28e-3,1.03e-3,8.4e-4,6.8e-4,5.5e-4,4.5e-4,3.6e-4,2.9e-4,2.4e-4,1.9e-4,1.55e-4,1.25e-4,1e-4],[234,1.22e-3,9.9e-4,8e-4,6.5e-4,5.3e-4,4.3e-4,3.5e-4,2.8e-4,2.3e-4,1.85e-4,1.5e-4,1.2e-4,9.8e-5,8e-5],[238,1.15e-3,9.3e-4,7.6e-4,6.1e-4,5e-4,4e-4,3.3e-4,2.7e-4,2.2e-4,1.75e-4,1.4e-4,1.15e-4,9.3e-5,7.5e-5,6e-5],[242,1.05e-3,8.5e-4,6.9e-4,5.6e-4,4.6e-4,3.7e-4,3e-4,2.4e-4,2e-4,1.6e-4,1.3e-4,1.05e-4,8.5e-5,6.9e-5,5.6e-5],[245,9.5e-4,7.7e-4,6.2e-4,5e-4,4.1e-4,3.3e-4,2.7e-4,2.2e-4,1.8e-4,1.45e-4,1.2e-4,9.5e-5,7.7e-5],[248,8.5e-4,6.9e-4,5.6e-4,4.5e-4,3.7e-4,3e-4,2.4e-4,1.95e-4,1.6e-4,1.3e-4,1.05e-4],
[273,1.3e-3,1.05e-3,8.5e-4,6.8e-4,5.5e-4,4.4e-4,3.5e-4,2.8e-4],[276,1.5e-3,1.2e-3,9.7e-4,7.8e-4,6.2e-4,5e-4,4e-4,3.2e-4,2.6e-4],[279,1.55e-3,1.25e-3,1e-3,8e-4,6.4e-4,5.1e-4,4.1e-4,3.3e-4],[282,1.52e-3,1.22e-3,9.8e-4,7.8e-4,6.2e-4,5e-4,4e-4],[285,1.48e-3,1.18e-3,9.4e-4,7.5e-4,6e-4,4.8e-4,3.8e-4],[288,1.4e-3,1.12e-3,9e-4,7.2e-4,5.7e-4,4.6e-4],[292,1.15e-3,9.2e-4,7.4e-4,5.9e-4,4.7e-4]];

// ---- axes ----
const NS = 'http://www.w3.org/2000/svg';
const X0 = 325, X1 = 1395, Y0 = 58, Y1 = 1015;
const xLogMin = 2 - (1015 - 325) / 711, xLogMax = 2 + (1395 - 1015) / 711;
const yLogMax = -1 + (151 - 58) / 206, yLogMin = -5 - (1015 - 975) / 206;
function xs(v){ return X0 + (Math.log10(v) - xLogMin) / (xLogMax - xLogMin) * (X1 - X0); }
function ys(v){ return Y1 - (Math.log10(v) - yLogMin) / (yLogMax - yLogMin) * (Y1 - Y0); }

const tickG = document.getElementById('ticks');
const labelG = document.getElementById('labels');
function line(x1,y1,x2,y2,w,name){
  const l = document.createElementNS(NS,'line');
  l.setAttribute('x1',x1);l.setAttribute('y1',y1);l.setAttribute('x2',x2);l.setAttribute('y2',y2);
  l.setAttribute('stroke','#000');l.setAttribute('stroke-width',w);
  
  
  tickG.appendChild(l);
}
yTickExps.forEach(e => {
  const y = ys(Math.pow(10,e));
  line(X0,y,X0+15,y,2.5,'y-major-tick');
  line(X1-15,y,X1,y,2.5,'y-major-tick');
  const t = document.createElementNS(NS,'text');
  t.setAttribute('x', 312); t.setAttribute('y', y + 21); t.setAttribute('text-anchor','end');
  t.innerHTML = '10<tspan font-size="40" dy="-25">−' + (-e) + '</tspan>';
  
  
  labelG.appendChild(t);
});
for (let e = -6; e <= -1; e++) {
  for (let m = 2; m <= 9; m++) {
    const v = m * Math.pow(10, e);
    const lv = Math.log10(v);
    if (lv <= yLogMin || lv >= yLogMax) continue;
    const y = ys(v);
    line(X0,y,X0+8,y,2,'y-minor-tick');
    line(X1-8,y,X1,y,2,'y-minor-tick');
  }
}
xTickExps.forEach(e => {
  const x = xs(Math.pow(10,e));
  line(x,Y1,x,Y1-15,2.5,'x-major-tick');
  line(x,Y0,x,Y0+15,2.5,'x-major-tick');
  const t = document.createElementNS(NS,'text');
  t.setAttribute('x', x + 2); t.setAttribute('y', 1094); t.setAttribute('text-anchor','middle');
  t.innerHTML = '10<tspan font-size="40" dy="-25">' + e + '</tspan>';
  
  
  labelG.appendChild(t);
});
xMinorVals.forEach(v => {
  const x = xs(v);
  line(x,Y1,x,Y1-9,2,'x-minor-tick');
  line(x,Y0,x,Y0+9,2,'x-minor-tick');
});

// ---- marks ----
const marksG = document.getElementById('marks');
function mark(kind, f, r, color){
  const x = xs(f), y = ys(r);
  let el;
  if (kind === 'circle') {
    el = document.createElementNS(NS,'circle');
    el.setAttribute('cx', x); el.setAttribute('cy', y); el.setAttribute('r', 4.5);
  } else if (kind === 'tri') {
    el = document.createElementNS(NS,'polygon');
    el.setAttribute('points', `${x},${y-5.5} ${x+5},${y+3.5} ${x-5},${y+3.5}`);
  } else {
    el = document.createElementNS(NS,'rect');
    el.setAttribute('x', x-4.5); el.setAttribute('y', y-4.5); el.setAttribute('width', 9); el.setAttribute('height', 9);
  }
  el.setAttribute('fill','none'); el.setAttribute('stroke', color); el.setAttribute('stroke-width', 1.8);
  
  
  marksG.appendChild(el);
}
function drawPairs(arr, kind, color){ arr.forEach(p => mark(kind, p[0], p[1], color)); }
function drawCols(arr, kind, color){ arr.forEach(c => { for (let i = 1; i < c.length; i++) mark(kind, c[0], c[i], color); }); }

drawPairs(blueScatter, 'circle', '#1f77b4');
drawCols(blueColumns, 'circle', '#1f77b4');
drawCols(blueFill, 'circle', '#1f77b4');
drawPairs(orangeLine, 'tri', '#ff7f0e');
drawPairs(orangePeaks, 'tri', '#ff7f0e');
drawCols(orangeColumns, 'tri', '#ff7f0e');
drawPairs(greenScatter, 'sq', '#2ca02c');
drawCols(greenColumns, 'sq', '#2ca02c');
drawCols(greenFill, 'sq', '#2ca02c');
</script>
</body></html>
